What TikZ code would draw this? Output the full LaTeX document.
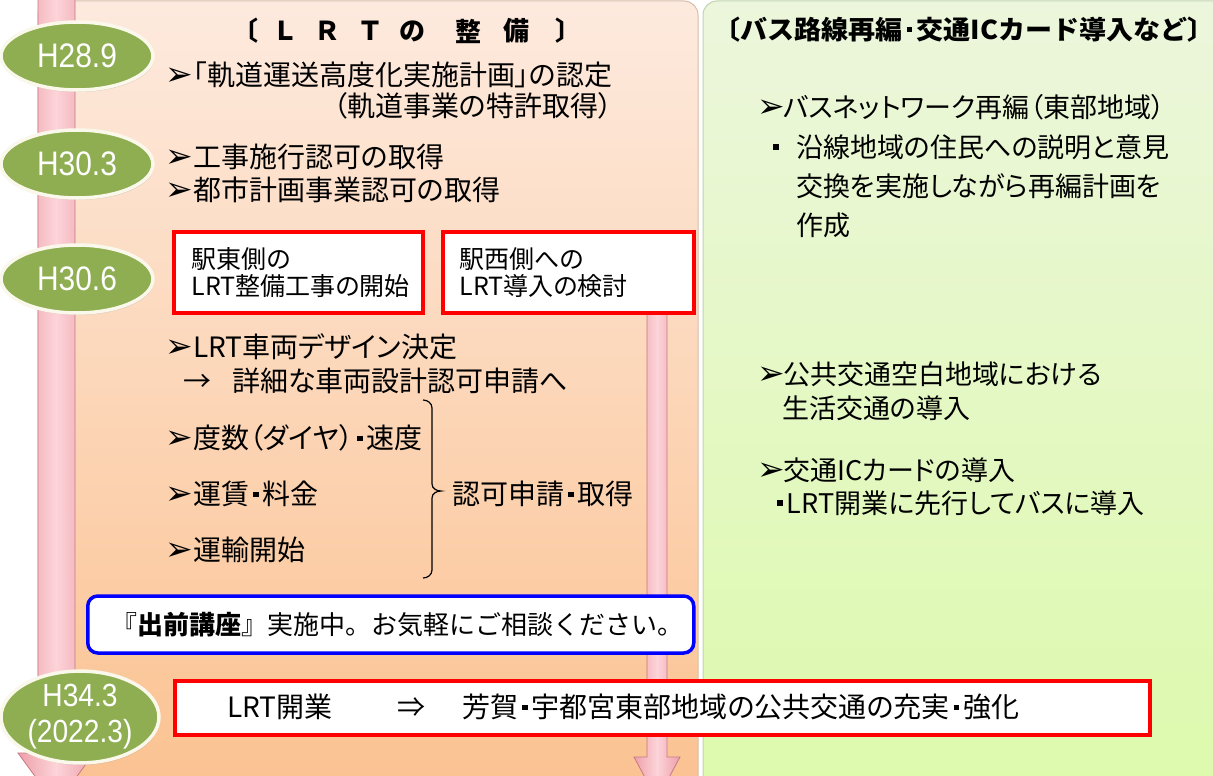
\documentclass[tikz,border=0pt]{standalone}
\usepackage{fontspec}
\setmainfont{Noto Sans CJK JP}[RawFeature=+palt]
\newfontfamily\cjkfw{Noto Sans CJK JP}
\newfontfamily\djv{DejaVu Sans}
\newfontfamily\lab{Liberation Sans}
\newcommand\arrw[1]{\makebox[#1][l]{\djv\fontsize{33}{33}\selectfont ➢}}
\newcommand\arr{\arrw{28pt}}
\newcommand\arrR{\arrw{26pt}}
\newcommand\sq{\hspace{4pt}\rule[7.5pt]{5.5pt}{5.5pt}\hspace{4pt}}
\usetikzlibrary{shapes.geometric,shadows}
\definecolor{peachT}{RGB}{253,234,222}
\definecolor{peachB}{RGB}{251,192,141}
\definecolor{greenT}{RGB}{236,246,220}
\definecolor{greenB}{RGB}{220,250,170}
\definecolor{eg}{RGB}{143,174,82}
\definecolor{pinkD}{RGB}{238,160,170}
\definecolor{pinkL}{RGB}{252,212,217}
\definecolor{pinkE}{RGB}{200,120,130}
\definecolor{rb}{RGB}{255,0,0}
\definecolor{bb}{RGB}{0,0,255}
\definecolor{edgeP}{RGB}{215,190,170}
\definecolor{edgeG}{RGB}{195,210,175}
\begin{document}
\begin{tikzpicture}[x=1pt,y=-1pt,
  L/.style={anchor=west, inner sep=0pt, font=\fontsize{28}{34}\selectfont, text height=24.6pt, text depth=3.4pt},
  R/.style={anchor=west, inner sep=0pt, font=\fontsize{27}{33}\selectfont, text height=23.8pt, text depth=3.2pt},
  ell/.style={ellipse, fill=eg, draw={rgb,255:red,250;green,248;blue,235}, line width=3.5pt, minimum width=152pt, minimum height=68pt, inner sep=0pt, text=white, font=\lab\fontsize{34}{38}\selectfont, drop shadow={opacity=0.25, shadow xshift=1pt, shadow yshift=-2pt}},
  redbox/.style={draw=rb, line width=3.5pt, fill=white, anchor=north west, inner ysep=0pt},
  bar/.style={left color=pinkD, right color=pinkD, middle color=pinkL, draw=pinkE, line width=0.8pt},
  ttl/.style={inner sep=0pt, font=\bfseries\fontsize{26}{30}\selectfont}]
\clip (0,0) rectangle (1213,776);
\fill[white] (0,0) rectangle (1213,776);
% panels
\shade[top color=peachT, bottom color=peachB, rounded corners=14pt] (38,1) rectangle (698,830);
\draw[edgeP, line width=1pt, rounded corners=14pt] (38,1) rectangle (698,830);
\shade[top color=greenT, bottom color=greenB, rounded corners=14pt] (703,1) rectangle (1250,830);
\draw[edgeG, line width=1pt, rounded corners=14pt] (703,1) rectangle (1250,830);
% timeline bars
\path[bar] (38,-5) -- (75,-5) -- (75,753) -- (94,753) -- (56,805) -- (18,753) -- (38,753) -- cycle;
\path[bar] (647,312) -- (667,312) -- (667,757) -- (680,757) -- (657,800) -- (634,757) -- (647,757) -- cycle;
% titles
\foreach \c/\x [count=\i] in {〔/252,Ｌ/285,Ｒ/328,Ｔ/370,の/412,整/468,備/516,〕/562}
  \node[ttl] (t\i) at (\x,31) {\c};
\node[ttl, anchor=west, font=\cjkfw\bfseries\fontsize{26}{30}\selectfont] (rt) at (713,30) {\scalebox{1.04}[1]{〔バス路線再編\sq 交通ICカード導入など〕}};
% ellipses
\node[ell] (e1) at (77,56) {\scalebox{0.88}[1]{H28.9}};
\node[ell] (e2) at (77,164) {\scalebox{0.88}[1]{H30.3}};
\node[ell] (e3) at (77,279) {\scalebox{0.88}[1]{H30.6}};
\node[ell, minimum width=158pt, minimum height=90pt, align=center, font=\lab\fontsize{32}{36}\selectfont] (e4) at (80,717) {\scalebox{0.88}[1]{H34.3}\\\scalebox{0.88}[1]{(2022.3)}};
% left texts
\node[L] (a1) at (165,75) {\arr「軌道運送高度化実施計画」の認定};
\node[L] (a2) at (333,106) {（軌道事業の特許取得）};
\node[L] (a3) at (165,157) {\arr 工事施行認可の取得};
\node[L] (a4) at (165,190) {\arr 都市計画事業認可の取得};
\node[redbox, minimum width=249pt, minimum height=81pt, inner xsep=18pt, text width=213pt, align=left, font=\fontsize{25}{27}\selectfont] (b1) at (172,230) {駅東側の\\LRT整備工事の開始};
\node[redbox, minimum width=251pt, minimum height=81pt, inner xsep=17pt, text width=217pt, align=left, font=\fontsize{25}{27}\selectfont] (b2) at (441,230) {駅西側への\\LRT導入の検討};
\node[L] (a5) at (165,347) {\arr LRT車両デザイン決定};
\node[L] (a6) at (183,381) {\makebox[49pt][l]{→}詳細な車両設計認可申請へ};
\node[L] (a7) at (165,438) {\arr 度数（ダイヤ）\sq 速度};
\node[L] (a8) at (165,494) {\arr 運賃\sq 料金};
\node[L] (a9) at (165,550) {\arr 運輸開始};
\node[L] (a10) at (452,494) {認可申請\sq 取得};
\coordinate (bt) at (423,400);
\coordinate (bm) at (441,491);
\coordinate (bb) at (423,578);
\draw[line width=1.2pt] (bt) to[out=0,in=90] (432,408) -- (432,484) to[out=-90,in=180] (bm)
  to[out=180,in=90] (432,498) -- (432,570) to[out=-90,in=0] (bb);
% blue box
\node[draw=bb, line width=3.5pt, fill=white, rounded corners=10pt, anchor=west, minimum width=606pt, minimum height=57pt, inner xsep=24pt, inner ysep=0pt, text width=558pt, align=left, font=\cjkfw\fontsize{26}{30}\selectfont] (bl) at (86,624.5) {『\textbf{出前講座}』実施中。お気軽にご相談ください。};
% bottom red box
\node[redbox, minimum width=975pt, minimum height=54pt] (rb) at (173,679) {};
\node[L] (c1) at (227,707) {LRT開業};
\node[L] (c2) at (397,707) {⇒};
\node[L] (c3) at (462,707) {芳賀\sq 宇都宮東部地域の公共交通の充実\sq 強化};
% right texts
\node[R] (r1) at (757,107) {\arrR バスネットワーク再編（東部地域）};
\node[R] (r2) at (773,147) {\makebox[23pt][l]{\rule[7.5pt]{5.5pt}{5.5pt}}沿線地域の住民への説明と意見};
\node[R] (r3) at (796,186) {交換を実施しながら再編計画を};
\node[R] (r4) at (796,225) {作成};
\node[R] (r5) at (757,374) {\arrR 公共交通空白地域における};
\node[R] (r6) at (782,408) {生活交通の導入};
\node[R] (r7) at (757,470) {\arrR 交通ICカードの導入};
\node[R] (r8) at (777,503) {\rule[7.5pt]{5.5pt}{5.5pt}\hspace{4pt}LRT開業に先行してバスに導入};
\end{tikzpicture}
\end{document}
